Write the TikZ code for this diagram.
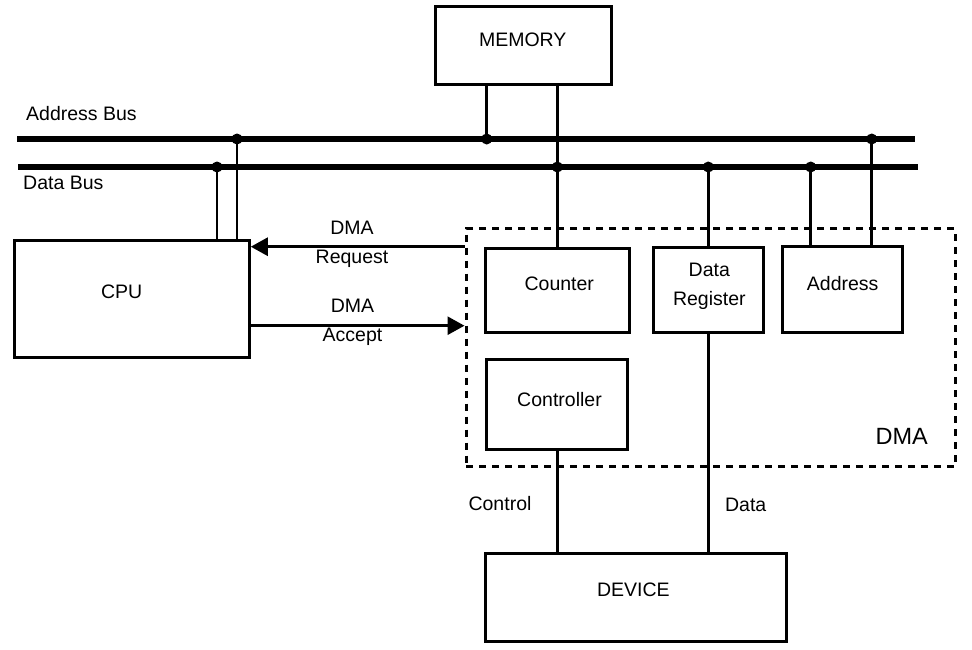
\documentclass[tikz,border=0pt]{standalone}
\usepackage{fontspec}
\setmainfont{Liberation Sans}
\usetikzlibrary{arrows.meta}
\begin{document}
\begin{tikzpicture}[x=1pt,y=-1pt,
  box/.style={draw, line width=3pt, inner sep=0pt},
  txt/.style={inner sep=0pt, font=\fontsize{19.5}{28.7}\selectfont, align=center},
  wire/.style={line width=2.8pt},
  bus/.style={line width=6.5pt},
  dot/.style={circle, fill, inner sep=0pt, minimum size=11pt},
  arr/.style={wire, -{Triangle[length=17pt,width=18pt]}},
  dmabox/.style={draw, line width=3pt, dash pattern=on 7pt off 6pt, inner sep=0pt}]

\useasboundingbox (0,0) rectangle (972,649);

% boxes
\node[box, minimum width=235.3pt, minimum height=116.6pt] (cpu) at (131.65,299) {};
\node[box, minimum width=176pt, minimum height=77.3pt] (mem) at (523.7,45.35) {};
\node[dmabox, minimum width=489pt, minimum height=238pt] (dma) at (710.5,347.7) {};
\node[box, minimum width=144pt, minimum height=84pt] (counter) at (557,290.3) {};
\node[box, minimum width=110.3pt, minimum height=84.7pt] (dreg) at (708.15,289.65) {};
\node[box, minimum width=120.4pt, minimum height=86pt] (adr) at (842.5,289) {};
\node[box, minimum width=141.2pt, minimum height=89.7pt] (ctrl) at (556.9,404.15) {};
\node[box, minimum width=301.7pt, minimum height=88.4pt] (dev) at (635.85,597.5) {};

% box texts
\node[txt] (cpuT) at (121.7,291.7) {CPU};
\node[txt] (memT) at (522.7,40) {MEMORY};
\node[txt] (cntT) at (559.3,284) {Counter};
\node[txt] (dregT) at (709.3,286) {Data\\Register};
\node[txt] (adrT) at (842.7,284) {Address};
\node[txt] (ctrlT) at (559.5,400) {Controller};
\node[txt] (devT) at (633.3,589.3) {DEVICE};
\node[txt, font=\fontsize{23.5}{28}\selectfont] (dmaT) at (901.7,436.7) {DMA};

% buses
\coordinate (ab1) at (17,139);
\coordinate (ab2) at (915,139);
\coordinate (db1) at (18,167);
\coordinate (db2) at (918,167);
\draw[bus] (ab1) -- (ab2);
\draw[bus] (db1) -- (db2);
\node[txt, anchor=west] (abL) at (26,114) {Address Bus};
\node[txt, anchor=west] (dbL) at (23,183) {Data Bus};

% bus taps
\coordinate (aCPU) at (237,139);
\coordinate (dCPU) at (217,167);
\coordinate (aMem) at (486.7,139);
\coordinate (dMem) at (557.3,167);
\coordinate (dReg) at (708.3,167);
\coordinate (dAdr) at (810.7,167);
\coordinate (aAdr) at (871.7,139);

\draw[wire] (dCPU) -- (cpu.north -| dCPU);
\draw[wire] (aCPU) -- (cpu.north -| aCPU);
\draw[wire] (mem.south -| aMem) -- (aMem);
\draw[wire] (mem.south -| dMem) -- (counter.north -| dMem);
\draw[wire] (dReg) -- (dreg.north -| dReg);
\draw[wire] (dAdr) -- (adr.north -| dAdr);
\draw[wire] (aAdr) -- (adr.north -| aAdr);
\draw[wire] (ctrl.south -| dMem) -- (dev.north -| dMem);
\draw[wire] (dreg.south -| dReg) -- (dev.north -| dReg);

\node[dot] (p1) at (aCPU) {};
\node[dot] (p2) at (dCPU) {};
\node[dot] (p3) at (aMem) {};
\node[dot] (p4) at (dMem) {};
\node[dot] (p5) at (dReg) {};
\node[dot] (p6) at (dAdr) {};
\node[dot] (p7) at (aAdr) {};

% DMA request / accept
\coordinate (req) at (466,246.7);
\coordinate (acc) at (466,325.7);
\draw[arr] (dma.west |- req) -- (cpu.east |- req);
\draw[arr] (cpu.east |- acc) -- (dma.west |- acc);
\node[txt] (reqL) at (352,244) {DMA\\Request};
\node[txt] (accL) at (352.5,322.5) {DMA\\Accept};

% device link labels
\node[txt] (ctlL) at (500,504) {Control};
\node[txt] (datL) at (745.7,505.3) {Data};
\end{tikzpicture}
\end{document}
